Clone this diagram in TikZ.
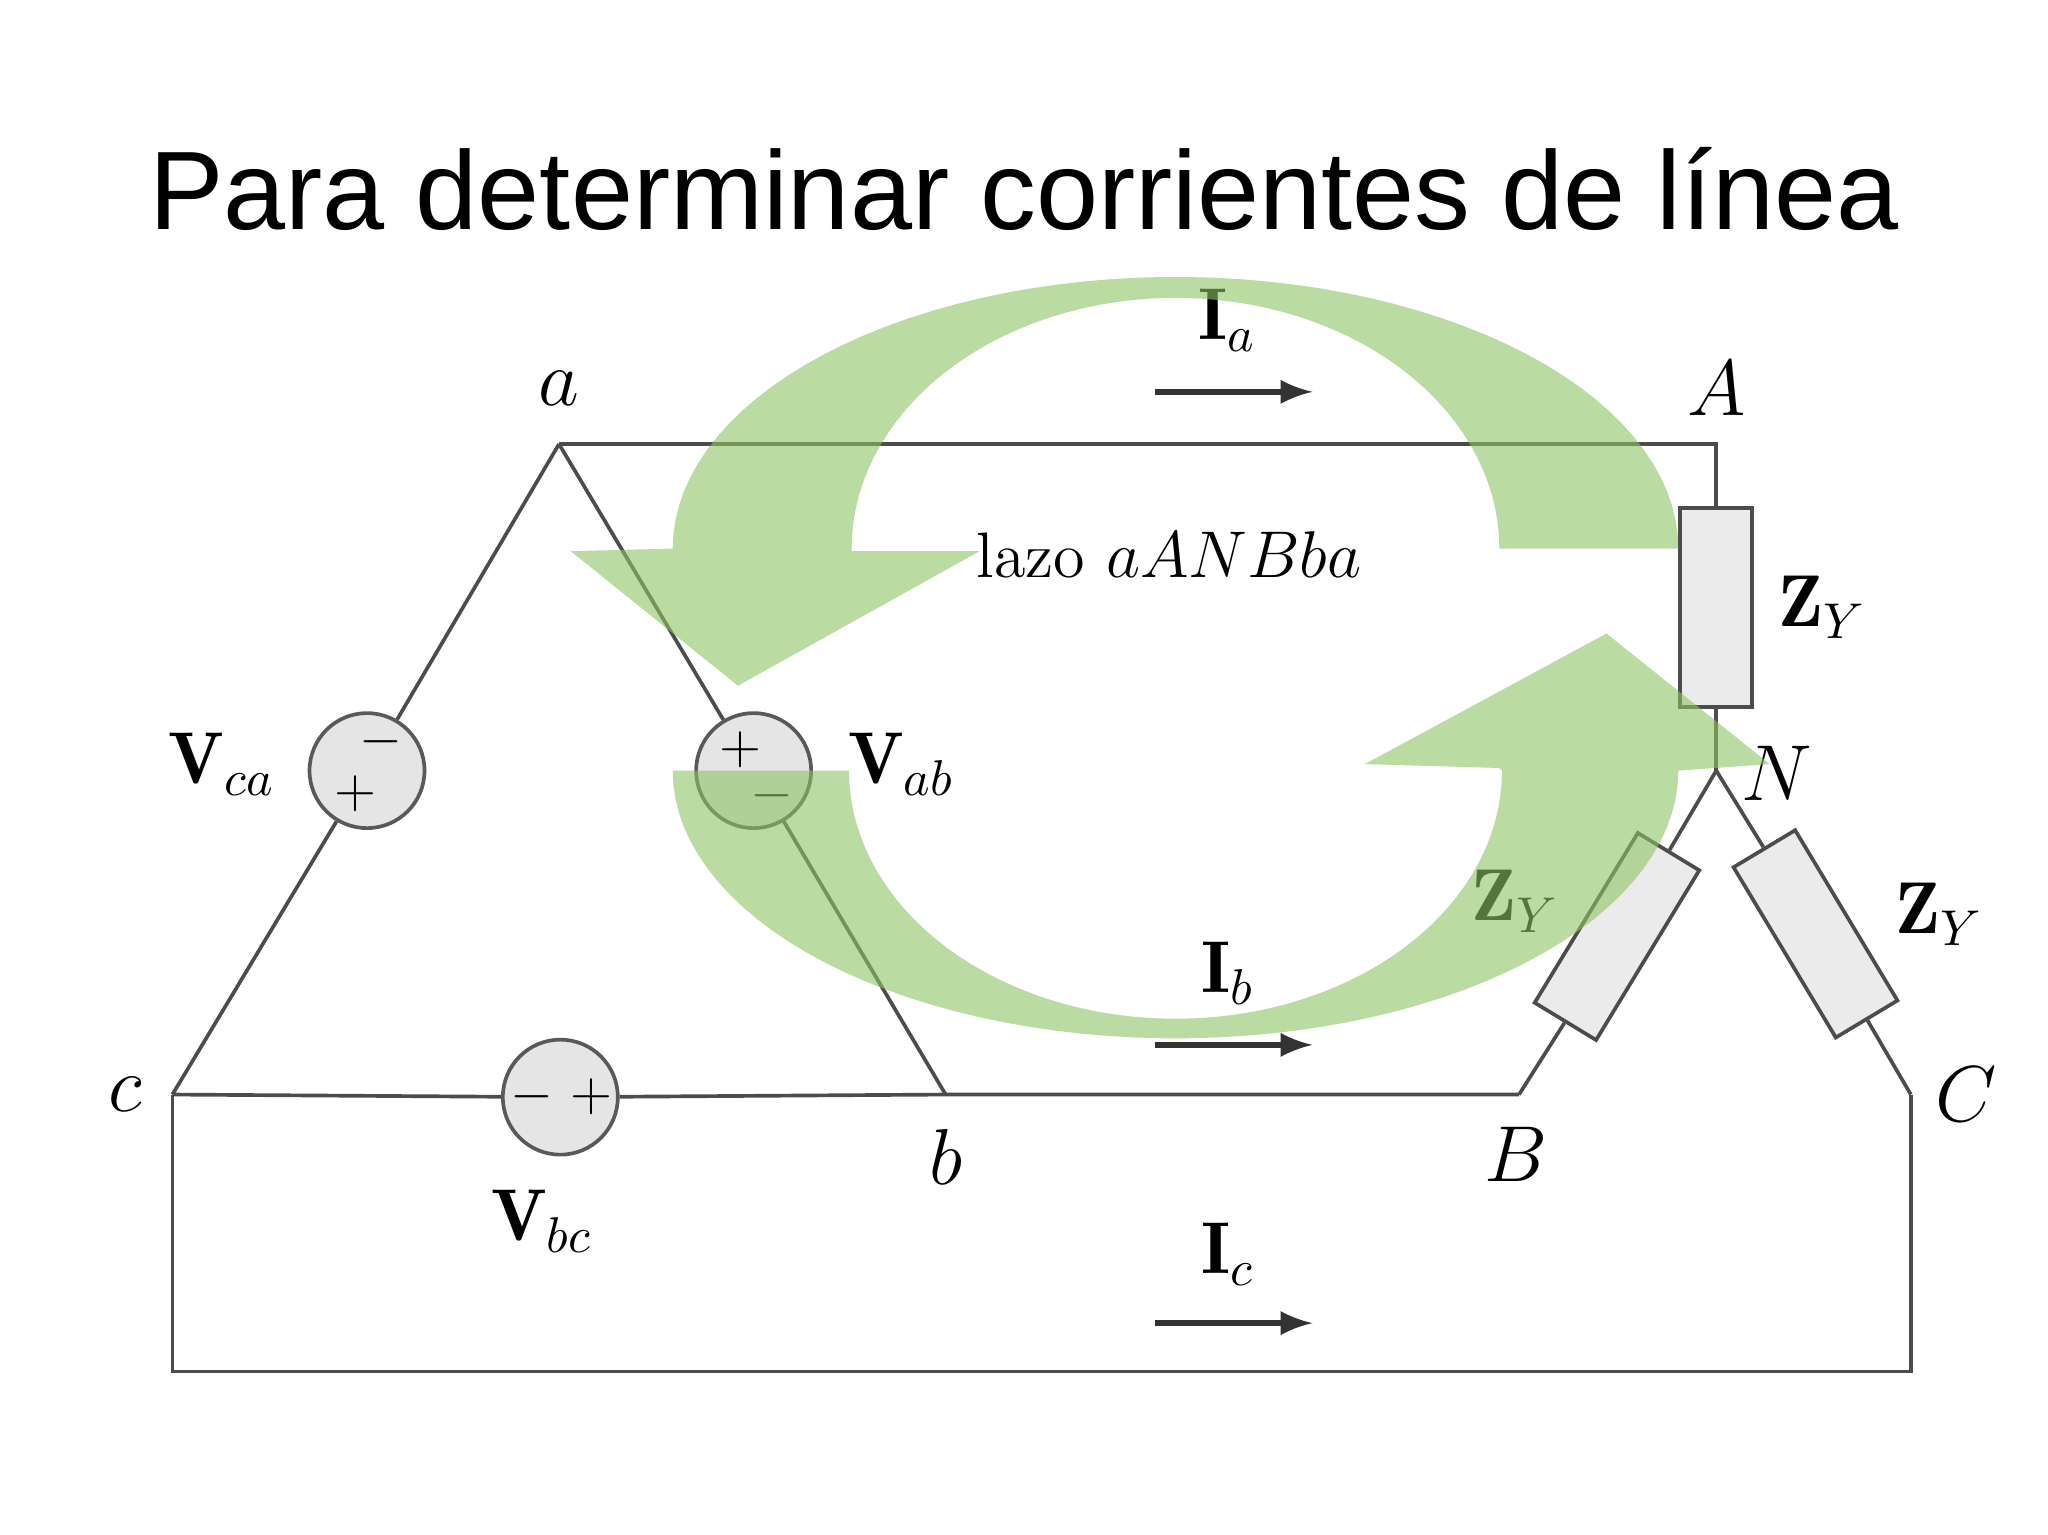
\documentclass[tikz,border=0pt]{standalone}
\usepackage{fontspec}
\newfontfamily\titlefont{Liberation Sans}
\begin{document}
\begin{tikzpicture}[x=0.01cm,y=-0.01cm,
  wire/.style={draw=black!70,line width=0.8pt},
  src/.style={circle,draw=black!65,fill=black!10,line width=0.8pt,minimum size=0.88cm,inner sep=0pt},
  res/.style={rectangle,draw=black!70,fill=black!8,line width=0.8pt,minimum width=0.55cm,minimum height=1.52cm,inner sep=0pt},
  lbl/.style={font=\fontsize{16}{19}\selectfont},
  sgn/.style={font=\fontsize{13}{15}\selectfont,inner sep=0pt},
  cur/.style={-latex,line width=1.4pt,black!80},
  garrow/.style={fill={rgb,255:red,140;green,195;blue,100},fill opacity=0.6,draw=none}]
\useasboundingbox (0,0) rectangle (1568,1175);
\node[font=\titlefont\fontsize{24.3}{29}\selectfont] (title) at (784,145) {Para determinar corrientes de línea};
% nodes
\coordinate (a) at (428,340);
\coordinate (A) at (1314,340);
\coordinate (c) at (132,838);
\coordinate (b) at (724,838);
\coordinate (B) at (1163,838);
\coordinate (C) at (1463,838);
\coordinate (N) at (1314,590);
\coordinate (cb) at (132,1050);
\coordinate (Cb) at (1463,1050);
\node[src] (Vca) at (281,590) {};
\node[src] (Vab) at (577,590) {};
\node[src] (Vbc) at (429,840) {};
\node[res] (Rt) at (1314,465) {};
\node[res,rotate=-31.3] (Rl) at (1238,717) {};
\node[res,rotate=31] (Rr) at (1390,715) {};
% wires
\draw[wire] (a) -- (Vca) -- (c);
\draw[wire] (a) -- (Vab) -- (b);
\draw[wire] (c) -- (Vbc) -- (b) -- (B);
\draw[wire] (a) -- (A) -- (Rt.north);
\draw[wire] (Rt.south) -- (N);
\draw[wire] (N) -- (Rl.north); \draw[wire] (Rl.south) -- (B);
\draw[wire] (N) -- (Rr.north); \draw[wire] (Rr.south) -- (C);
\draw[wire] (C) -- (Cb) -- (cb) -- (c);
% signs
\node[sgn] at (292,568) {$-$};
\node[sgn] at (272,608) {$+$};
\node[sgn] at (567,574) {$+$};
\node[sgn] at (591,609) {$-$};
\node[sgn] at (407,840) {$-$};
\node[sgn] at (453,840) {$+$};
% labels
\node[lbl] at (428,297) {$a$};
\node[lbl] at (1314,297) {$A$};
\node[lbl] at (96,838) {$c$};
\node[lbl] at (724,886) {$b$};
\node[lbl] at (1161,884) {$B$};
\node[lbl] at (1505,838) {$C$};
\node[lbl] at (1360,592) {$N$};
\node[lbl] at (170,585) {$\mathbf{V}_{ca}$};
\node[lbl] at (690,585) {$\mathbf{V}_{ab}$};
\node[lbl] at (415,935) {$\mathbf{V}_{bc}$};
\node[lbl] at (1395,465) {$\mathbf{Z}_Y$};
\node[lbl] at (1160,690) {$\mathbf{Z}_Y$};
\node[lbl] at (1485,700) {$\mathbf{Z}_Y$};
\node[lbl] at (940,245) {$\mathbf{I}_a$};
\node[lbl] at (940,745) {$\mathbf{I}_b$};
\node[lbl] at (940,960) {$\mathbf{I}_c$};
\coordinate (ia1) at (884,300); \coordinate (ia2) at (1005,300);
\coordinate (ib1) at (884,800); \coordinate (ib2) at (1005,800);
\coordinate (ic1) at (884,1013); \coordinate (ic2) at (1005,1013);
\draw[cur] (ia1) -- (ia2);
\draw[cur] (ib1) -- (ib2);
\draw[cur] (ic1) -- (ic2);
\node[font=\fontsize{14}{17}\selectfont] (lazo) at (895,425) {lazo $aANBba$};
% green arrows
\fill[garrow] (1150,420) -- plot[domain=0:180,samples=60] ({900+385*cos(\x)},{420-208*sin(\x)})
  -- (437,422) -- (565,525) -- (750,422) -- (652,422)
  -- plot[domain=180:0,samples=60] ({900+248*cos(\x)},{420-192*sin(\x)}) -- cycle;
\fill[garrow] (650,590) -- plot[domain=180:360,samples=60] ({900+385*cos(\x)},{590-205*sin(\x)})
  -- (1355,585) -- (1230,485) -- (1045,585) -- (1148,588)
  -- plot[domain=360:180,samples=60] ({900+250*cos(\x)},{590-190*sin(\x)}) -- cycle;
\end{tikzpicture}
\end{document}
